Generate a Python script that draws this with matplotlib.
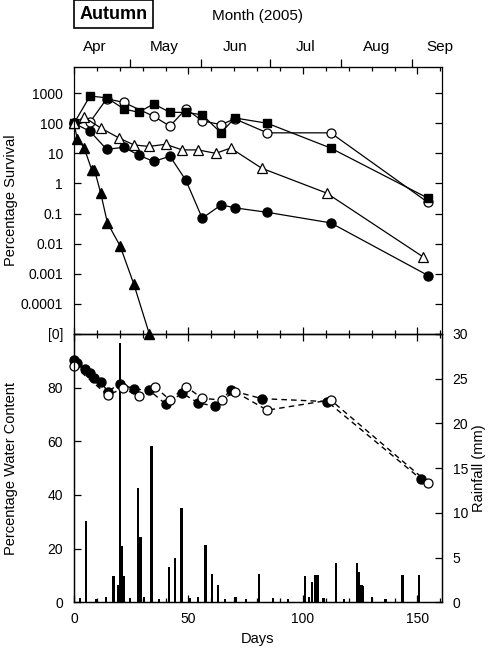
import numpy as np
import matplotlib
matplotlib.use('Agg')
import matplotlib.pyplot as plt
from matplotlib.ticker import MultipleLocator, NullLocator

plt.rcParams['font.family'] = ['Liberation Sans', 'DejaVu Sans']
plt.rcParams['font.size'] = 10

# survival data (percentage), upper panel
sq_days = [0, 7, 14.3, 21.8, 28.2, 34.8, 41.9, 48.9, 56, 64.2, 70.2, 84.4, 112.1, 154.4]
sq_vals = [100, 800, 700, 300, 230, 440, 230, 230, 190, 48, 150, 100, 15, 0.33]

oc_days = [0, 7, 14.3, 21.8, 34.8, 41.9, 48.9, 56, 64.2, 70.2, 84.4, 112.1, 154.4]
oc_vals = [100, 110, 650, 490, 170, 80, 300, 120, 90, 140, 48, 48, 0.24]

ot_days = [0, 4.4, 11.6, 19.8, 26.2, 32.8, 40, 47.3, 54.3, 61.9, 68.4, 82, 110.3, 152.3]
ot_vals = [100, 160, 70, 32, 19, 17, 20, 13, 13, 10, 15, 3.2, 0.48, 0.0037]

fc_days = [0, 7, 14.3, 21.8, 28.2, 34.8, 41.9, 48.9, 56, 64.3, 70.2, 84.4, 112.1, 154.7]
fc_vals = [100, 54, 13.5, 16, 8.7, 5.4, 8, 1.26, 0.07, 0.195, 0.155, 0.11, 0.049, 0.00087]

ft_days = [0, 1.4, 4.4, 7.7, 8.9, 11.6, 14.6, 20.1, 26.1, 32.9]
ft_vals = [100, 30, 15.5, 2.9, 2.9, 0.5, 0.049, 0.0085, 0.00046, 1e-5]

surv_ticks = [1e-5, 1e-4, 1e-3, 1e-2, 1e-1, 1, 10, 100, 1000]
surv_labels = ['[0]', '0.0001', '0.001', '0.01', '0.1', '1', '10', '100', '1000']

# water content, lower panel
wf_days = [0, 1.5, 4.8, 7, 8.9, 11.8, 14.7, 20.1, 26.2, 32.9, 40, 47.3, 54.1, 61.7, 68.4, 82, 110.6, 151.4]
wf_vals = [90.3, 89.1, 87.1, 85.6, 83.7, 82.1, 78.5, 81.5, 79.5, 79.0, 73.9, 77.9, 74.4, 73.0, 79.0, 75.9, 74.8, 46.0]
wo_days = [0, 14.7, 21.5, 28.2, 35.2, 41.9, 48.9, 56, 64.5, 70.2, 84.4, 112.1, 154.7]
wo_vals = [88.1, 77.2, 79.7, 76.9, 80.4, 75.4, 80.4, 76.0, 75.4, 78.5, 71.6, 75.4, 44.5]

# rainfall (mm)
rain_days = [2.5, 5.2, 9.8, 14.0, 17.2, 19.2, 20.2, 20.9, 21.8, 24.5, 27.8, 29.0, 30.5, 33.8, 37.0,
             41.6, 44.0, 46.9, 50.5, 54.0, 57.4, 60.3, 62.9, 66.0, 70.5, 75.0, 80.8, 87.0, 93.5,
             100.9, 102.5, 104.0, 105.2, 106.4, 109.0, 114.3, 118.0, 123.5, 124.5, 125.6, 126.3,
             130.0, 136.0, 143.5, 150.8]
rain_mm = [0.5, 9.1, 0.4, 0.6, 2.9, 1.9, 29.0, 6.3, 2.9, 0.5, 12.8, 7.3, 0.6, 17.5, 0.4,
           4.0, 5.0, 10.5, 0.5, 0.6, 6.4, 3.2, 1.9, 0.4, 0.6, 0.4, 3.2, 0.5, 0.4,
           2.9, 0.6, 2.3, 3.1, 3.1, 0.5, 4.4, 0.4, 4.4, 3.4, 1.9, 1.8,
           0.6, 0.4, 3.1, 3.1]

months = ['Apr', 'May', 'Jun', 'Jul', 'Aug', 'Sep']
month_edges = [24.5, 55.5, 85.5, 116.5, 147.5]
month_mids = [9, 39.5, 70.5, 101, 132, 160]

XMAX = 160.5

fig = plt.figure(figsize=(5, 6.5), dpi=100)
ax1 = fig.add_axes([0.148, 0.4862, 0.735, 0.4108])
ax2 = fig.add_axes([0.148, 0.0734, 0.735, 0.4128])

lw = 0.9
ax1.plot(ft_days, ft_vals, 'k-', marker='^', ms=7, mfc='k', mec='k', lw=lw, clip_on=False)
ax1.plot(fc_days, fc_vals, 'k-', marker='o', ms=6.5, mfc='k', mec='k', lw=lw, clip_on=False)
ax1.plot(oc_days, oc_vals, 'k-', marker='o', ms=6.5, mfc='white', mec='k', mew=0.9, lw=lw, clip_on=False)
ax1.plot(sq_days, sq_vals, 'k-', marker='s', ms=6, mfc='k', mec='k', lw=lw, clip_on=False)
ax1.plot(ot_days, ot_vals, 'k-', marker='^', ms=7, mfc='white', mec='k', mew=0.9, lw=lw, clip_on=False)

ax1.set_yscale('log')
ax1.set_ylim(1e-5, 10 ** 3.87)
ax1.set_xlim(0, XMAX)
ax1.set_yticks(surv_ticks)
ax1.set_yticklabels(surv_labels)
ax1.yaxis.set_minor_locator(NullLocator())
ax1.xaxis.set_major_locator(MultipleLocator(50))
ax1.xaxis.set_minor_locator(MultipleLocator(10))
ax1.tick_params(which='both', direction='in', top=True, right=True, labelbottom=False)
ax1.tick_params(which='major', length=5, width=0.9)
ax1.tick_params(axis='y', which='major', pad=8)
ax1.tick_params(which='minor', length=3, width=0.9)
ax1.set_ylabel('Percentage Survival', fontsize=10.5)
ax1.yaxis.set_label_coords(-0.152, 0.5)

# month axis on top
sec = ax1.secondary_xaxis('top')
sec.set_xticks(month_edges)
sec.set_xticklabels([''] * len(month_edges))
sec.set_xticks(month_mids, minor=True)
sec.set_xticklabels(months, minor=True, fontsize=11)
sec.tick_params(which='major', direction='out', length=6, width=0.9)
sec.tick_params(which='minor', length=0, pad=9)

# lower panel
ax3 = ax2.twinx()
ax2.set_zorder(ax3.get_zorder() + 1)
ax2.patch.set_visible(False)

ax3.bar(rain_days, rain_mm, width=1.0, color='k', edgecolor='k', linewidth=0)
ax3.set_ylim(0, 30)
ax3.set_yticks(np.arange(0, 31, 5))
ax3.tick_params(direction='in', length=5, width=0.9, pad=8)
ax3.set_ylabel('Rainfall (mm)', fontsize=10.5)
ax3.yaxis.set_label_coords(1.082, 0.5)

dash = (0, (4, 3))
ax2.plot(wf_days, wf_vals, color='k', ls=dash, lw=1.0, marker='o', ms=6.5, mfc='k', mec='k', clip_on=False)
ax2.plot(wo_days, wo_vals, color='k', ls=dash, lw=1.0, marker='o', ms=6.5, mfc='white', mec='k', mew=0.9, clip_on=False)
ax2.set_ylim(0, 100)
ax2.set_xlim(0, XMAX)
ax2.set_yticks([0, 20, 40, 60, 80])
ax2.xaxis.set_major_locator(MultipleLocator(50))
ax2.xaxis.set_minor_locator(MultipleLocator(10))
ax2.tick_params(which='both', direction='in', top=True, width=0.9)
ax2.tick_params(which='major', length=5)
ax2.tick_params(which='minor', length=3)
ax2.tick_params(axis='y', pad=8)
ax2.tick_params(axis='x', pad=7)
ax2.set_xlabel('Days', fontsize=10.5)
ax2.set_ylabel('Percentage Water Content', fontsize=10.5)
ax2.yaxis.set_label_coords(-0.152, 0.5)

for a in (ax1, ax2, ax3):
    for s in a.spines.values():
        s.set_linewidth(0.9)

fig.text(0.227, 0.978, 'Autumn', fontsize=13, fontweight='bold', ha='center', va='center',
         bbox=dict(boxstyle='square,pad=0.3', fc='white', ec='k', lw=1.2))
fig.text(0.514, 0.975, 'Month (2005)', fontsize=11, ha='center', va='center')

fig.savefig('out.png', dpi=100)
